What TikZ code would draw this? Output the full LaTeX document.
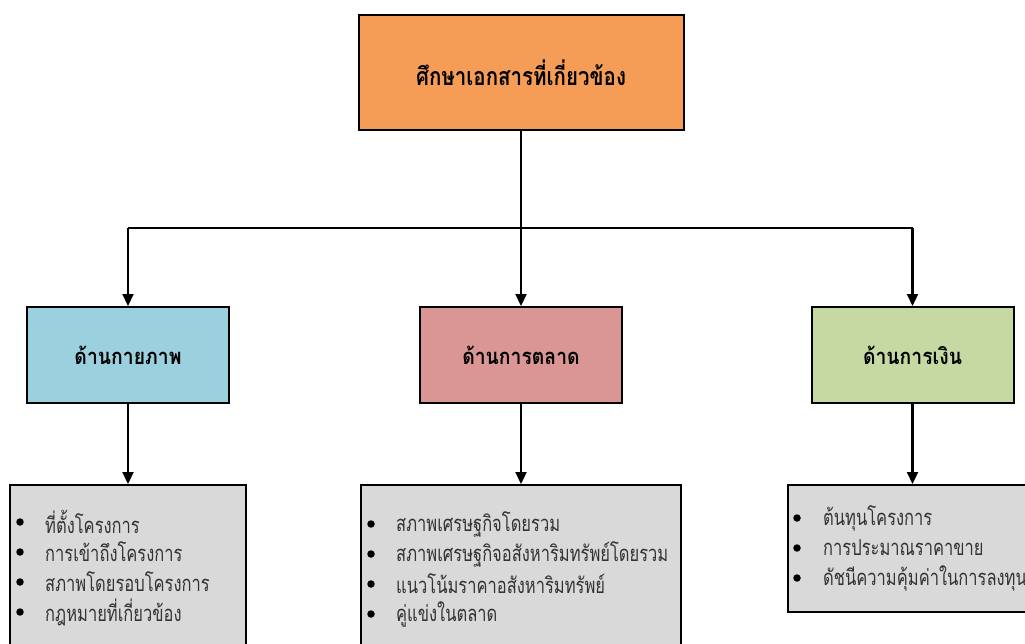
\documentclass[tikz,border=0pt]{standalone}
\usepackage{fontspec}
\newfontfamily\listfont[Script=Thai,FakeStretch=0.75]{Loma}
\newfontfamily\headfont[Script=Thai,FakeStretch=0.88]{Loma}
\newfontfamily\titlefont[Script=Thai,FakeStretch=0.82]{Loma}
\usetikzlibrary{arrows.meta,positioning}
\definecolor{orangebox}{HTML}{F59D56}
\definecolor{bluebox}{HTML}{9BD1DF}
\definecolor{pinkbox}{HTML}{DA9694}
\definecolor{greenbox}{HTML}{C7D9A3}
\definecolor{greybox}{HTML}{D9D9D9}
\tikzset{
  box/.style={draw=black, line width=2pt, inner sep=0pt},
  headbox/.style={box, minimum width=202pt, minimum height=96pt, font=\headfont\bfseries\fontsize{22}{26}\selectfont},
  conn/.style={line width=2.2pt, -{Triangle[length=12pt,width=11pt]}},
  item/.style={anchor=west, inner sep=0pt, font=\listfont\fontsize{22}{26}\selectfont, text=black!80},
  dot/.style={circle, fill=black, inner sep=0pt, minimum size=7.5pt}
}
\begin{document}
\begin{tikzpicture}[x=1pt,y=-1pt]
\useasboundingbox (0,0) rectangle (1025,643);
\clip (0,0) rectangle (1025,643);
% top
\node[box, fill=orangebox, minimum width=325pt, minimum height=115pt, font=\titlefont\bfseries\fontsize{25}{30}\selectfont] (top) at (521,72.5) {ศึกษาเอกสารที่เกี่ยวข้อง};
% middle
\node[headbox, fill=bluebox] (phys) at (128,355) {ด้านกายภาพ};
\node[headbox, fill=pinkbox] (mkt) at (521,355) {ด้านการตลาด};
\node[headbox, fill=greenbox] (fin) at (912.5,355) {ด้านการเงิน};
% bottom
\node[box, fill=greybox, minimum width=236pt, minimum height=180pt, anchor=north] (b1) at (128,484) {};
\node[box, fill=greybox, minimum width=320pt, minimum height=180pt, anchor=north] (b2) at (521,484) {};
\node[box, fill=greybox, minimum width=260pt, minimum height=127pt, anchor=north west] (b3) at (787,484) {};
% connectors
\coordinate (jl) at (128,228);
\coordinate (jr) at (912.5,228);
\draw[line width=2.2pt] (jl) -- (jr);
\draw[conn] (top.south) -- (mkt.north);
\draw[conn] (jl) -- (phys.north);
\draw[conn] (jr) -- (fin.north);
\draw[conn] (phys.south) -- (b1.north);
\draw[conn] (mkt.south) -- (b2.north);
\draw[conn] (fin.south) -- (fin.south |- b3.north);
% items left
\node[dot] (d11) at (20,522) {}; \node[item] (t11) at (45,522) {ที่ตั้งโครงการ};
\node[dot] (d12) at (20,552) {}; \node[item] (t12) at (45,552) {การเข้าถึงโครงการ};
\node[dot] (d13) at (20,582) {}; \node[item] (t13) at (45,582) {สภาพโดยรอบโครงการ};
\node[dot] (d14) at (20,612) {}; \node[item] (t14) at (45,612) {กฎหมายที่เกี่ยวข้อง};
% items middle
\node[dot] (d21) at (371,524) {}; \node[item] (t21) at (396,524) {สภาพเศรษฐกิจโดยรวม};
\node[dot] (d22) at (371,554) {}; \node[item] (t22) at (396,554) {สภาพเศรษฐกิจอสังหาริมทรัพย์โดยรวม};
\node[dot] (d23) at (371,584) {}; \node[item] (t23) at (396,584) {แนวโน้มราคาอสังหาริมทรัพย์};
\node[dot] (d24) at (371,614) {}; \node[item] (t24) at (396,614) {คู่แข่งในตลาด};
% items right
\node[dot] (d31) at (797,518) {}; \node[item] (t31) at (823,518) {ต้นทุนโครงการ};
\node[dot] (d32) at (797,548) {}; \node[item] (t32) at (823,548) {การประมาณราคาขาย};
\node[dot] (d33) at (797,578) {}; \node[item] (t33) at (823,578) {ดัชนีความคุ้มค่าในการลงทุน};
\end{tikzpicture}
\end{document}
